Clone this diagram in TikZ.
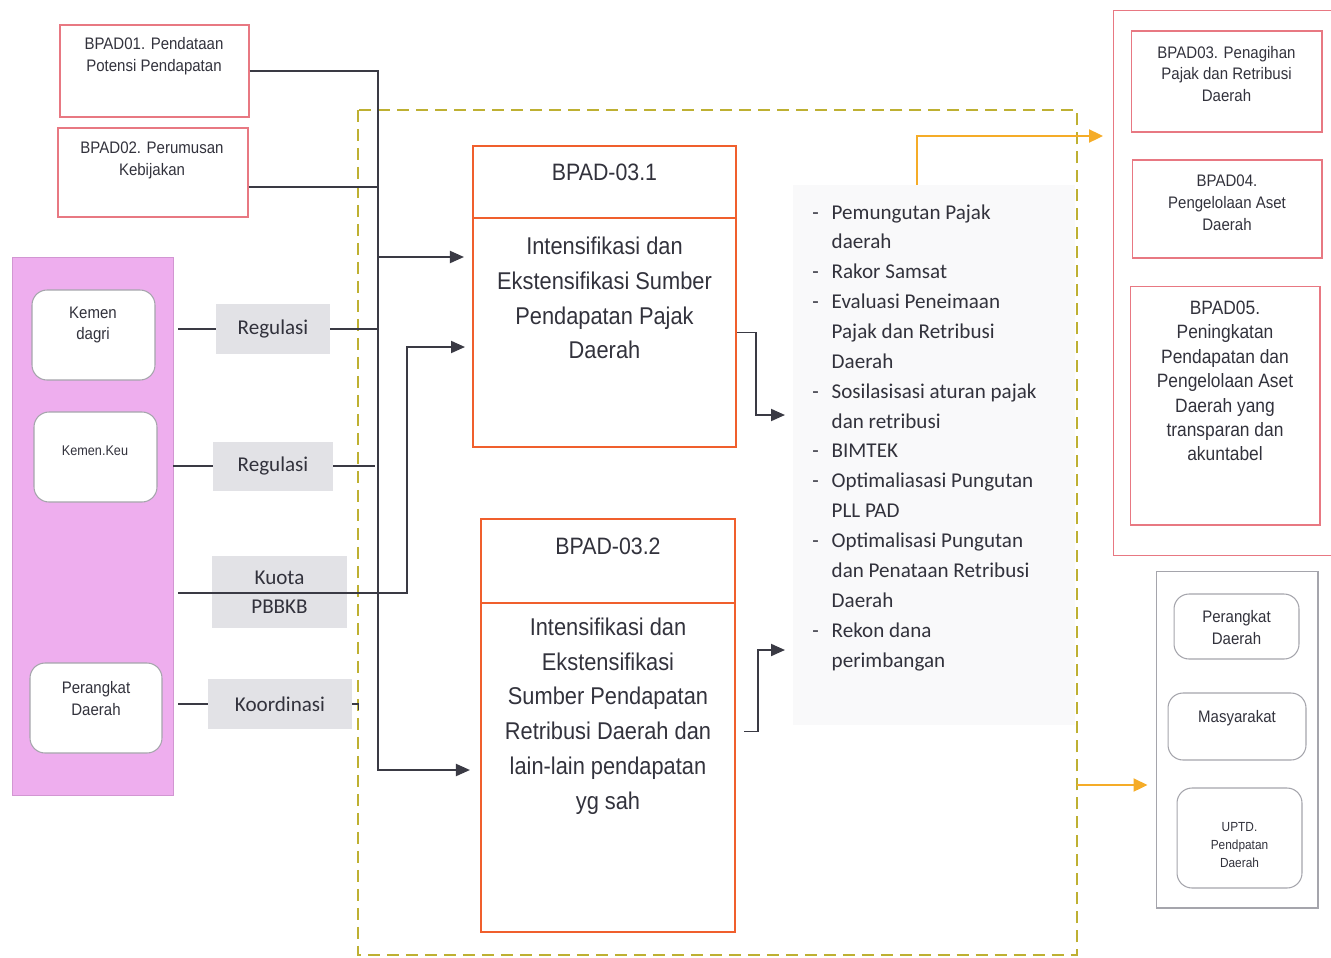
\documentclass[tikz,border=0pt]{standalone}
\usepackage{fontspec}
\setmainfont{Liberation Sans}
\newfontfamily\narrowfont[FakeStretch=0.9]{Liberation Sans}
\newfontfamily\calfont{Carlito}
\usetikzlibrary{arrows.meta}

\definecolor{pinkfill}{RGB}{238,174,238}
\definecolor{pinkline}{RGB}{210,150,210}
\definecolor{redline}{RGB}{232,120,130}
\definecolor{orangeline}{RGB}{240,95,45}
\definecolor{dashyellow}{RGB}{190,176,50}
\definecolor{arrorange}{RGB}{245,172,40}
\definecolor{linegray}{RGB}{58,58,68}
\definecolor{labelgray}{RGB}{226,226,230}
\definecolor{listbg}{RGB}{249,249,250}
\definecolor{txtgray}{RGB}{50,50,60}
\definecolor{boxgray}{RGB}{165,165,172}

\begin{document}
\begin{tikzpicture}[x=0.02cm, y=-0.02cm]
   \tikzstyle{every node}=[inner sep=0pt, text=txtgray]
   \tikzstyle{redbox}=[draw=redline, line width=0.6pt]
   \tikzstyle{roundbox}=[draw=boxgray, fill=white, rounded corners=0.3cm, line width=0.6pt]
   \tikzstyle{orangebox}=[draw=orangeline, line width=1.2pt]
   \tikzstyle{tag}=[fill=labelgray, align=center, font=\calfont\fontsize{12}{16.5}\selectfont]
   \tikzstyle{small}=[align=center, font=\narrowfont\fontsize{9.5}{12.5}\selectfont]
   \tikzstyle{big}=[align=center, font=\narrowfont\fontsize{13.8}{19.8}\selectfont]
   \tikzstyle{conn}=[draw=linegray, line width=1.1pt]
   \tikzstyle{arr}=[conn, -{Triangle[length=0.28cm, width=0.24cm]}]
   \tikzstyle{oarr}=[draw=arrorange, line width=1.3pt, -{Triangle[length=0.28cm, width=0.26cm]}]

   \useasboundingbox (0,0) rectangle (1331,957);

   % frame and list area
   \draw[dashyellow, line width=1.2pt, dash pattern=on 0.24cm off 0.14cm] (358,110) rectangle (1077,955);
   \node[fill=listbg, minimum width=5.64cm, minimum height=10.8cm] (list) at (934,455) {};

   % left side
   \node[redbox, minimum width=3.78cm, minimum height=1.84cm] (bpad1) at (154.5,71) {};
   \node[small] (bpad1txt) at (154,56) {BPAD01. Pendataan\\Potensi Pendapatan};
   \node[redbox, minimum width=3.8cm, minimum height=1.78cm] (bpad2) at (153,172.5) {};
   \node[small] (bpad2txt) at (152,160) {BPAD02. Perumusan\\Kebijakan};

   \node[draw=pinkline, fill=pinkfill, minimum width=3.22cm, minimum height=10.76cm] (pink) at (92.5,526) {};
   \node[roundbox, minimum width=2.46cm, minimum height=1.8cm] (kdagri) at (93.5,335) {};
   \node[small] (kdagritxt) at (93,325) {Kemen\\dagri};
   \node[roundbox, minimum width=2.46cm, minimum height=1.8cm] (kkeu) at (95.5,457) {};
   \node[small, font=\narrowfont\fontsize{8}{10}\selectfont] (kkeutxt) at (95,451) {Kemen.Keu};
   \node[roundbox, minimum width=2.64cm, minimum height=1.8cm] (pdleft) at (96,708) {};
   \node[small] (pdlefttxt) at (96,699) {Perangkat\\Daerah};

   \node[tag, minimum width=2.28cm, minimum height=1.0cm] (reg1) at (273,329) {Regulasi};
   \node[tag, minimum width=2.4cm, minimum height=0.98cm] (reg2) at (273,466) {Regulasi};
   \node[tag, minimum width=2.7cm, minimum height=1.44cm] (kuota) at (279.5,592) {Kuota\\PBBKB};
   \node[tag, minimum width=2.88cm, minimum height=1.0cm] (koord) at (280,704) {Koordinasi};

   % middle boxes
   \node[orangebox, minimum width=5.26cm, minimum height=1.44cm] (b31head) at (604.5,182) {};
   \node[orangebox, minimum width=5.26cm, minimum height=4.58cm] (b31body) at (604.5,332.5) {};
   \node[big, font=\narrowfont\fontsize{13.5}{16}\selectfont] (b31title) at (604.5,172) {BPAD-03.1};
   \node[big] (b31txt) at (604.5,298) {Intensifikasi dan\\Ekstensifikasi Sumber\\Pendapatan Pajak\\Daerah};

   \node[orangebox, minimum width=5.08cm, minimum height=1.68cm] (b32head) at (608,561) {};
   \node[orangebox, minimum width=5.08cm, minimum height=6.58cm] (b32body) at (608,767.5) {};
   \node[big, font=\narrowfont\fontsize{13.5}{16}\selectfont] (b32title) at (608,546) {BPAD-03.2};
   \node[big] (b32txt) at (608,716) {Intensifikasi dan\\Ekstensifikasi\\Sumber Pendapatan\\Retribusi Daerah dan\\lain-lain pendapatan\\yg sah};

   % activity list
   \node[anchor=north west, align=left, font=\calfont\fontsize{12}{17}\selectfont] (listtxt) at (812,204) {%
      \makebox[11pt][l]{-}Pemungutan Pajak\\ \hspace*{11pt}daerah\\
      \makebox[11pt][l]{-}Rakor Samsat\\
      \makebox[11pt][l]{-}Evaluasi Peneimaan\\ \hspace*{11pt}Pajak dan Retribusi\\ \hspace*{11pt}Daerah\\
      \makebox[11pt][l]{-}Sosilasisasi aturan pajak\\ \hspace*{11pt}dan retribusi\\
      \makebox[11pt][l]{-}BIMTEK\\
      \makebox[11pt][l]{-}Optimaliasasi Pungutan\\ \hspace*{11pt}PLL PAD\\
      \makebox[11pt][l]{-}Optimalisasi Pungutan\\ \hspace*{11pt}dan Penataan Retribusi\\ \hspace*{11pt}Daerah\\
      \makebox[11pt][l]{-}Rekon dana\\ \hspace*{11pt}perimbangan};

   % right side
   \node[redbox, minimum width=4.54cm, minimum height=10.92cm] (rbig) at (1226.5,283) {};
   \node[redbox, minimum width=3.82cm, minimum height=2.02cm] (bpad3) at (1226.5,81.5) {};
   \node[small] (bpad3txt) at (1226.5,74) {BPAD03. Penagihan\\Pajak dan Retribusi\\Daerah};
   \node[redbox, minimum width=3.8cm, minimum height=1.96cm] (bpad4) at (1227,209) {};
   \node[small] (bpad4txt) at (1227,203) {BPAD04.\\Pengelolaan Aset\\Daerah};
   \node[redbox, minimum width=3.8cm, minimum height=4.78cm] (bpad5) at (1225,405.5) {};
   \node[small, font=\narrowfont\fontsize{11}{13.9}\selectfont] (bpad5txt) at (1225,381) {BPAD05.\\Peningkatan\\Pendapatan dan\\Pengelolaan Aset\\Daerah yang\\transparan dan\\akuntabel};

   \node[draw=boxgray, line width=0.6pt, minimum width=3.24cm, minimum height=6.74cm] (rgray) at (1237,739.5) {};
   \node[roundbox, minimum width=2.5cm, minimum height=1.3cm] (pdright) at (1236.5,626.5) {};
   \node[small] (pdrighttxt) at (1236.5,627.5) {Perangkat\\Daerah};
   \node[roundbox, minimum width=2.76cm, minimum height=1.34cm] (masy) at (1237,726.5) {};
   \node[small] (masytxt) at (1237,718) {Masyarakat};
   \node[roundbox, minimum width=2.5cm, minimum height=2.0cm] (uptd) at (1239.5,838) {};
   \node[small, font=\narrowfont\fontsize{7.5}{10.5}\selectfont] (uptdtxt) at (1239.5,845) {UPTD.\\Pendpatan\\Daerah};

   % connectors
   \coordinate (jbot) at (378,770);
   \coordinate (jmid) at (378,257);
   \coordinate (kbend) at (407,593);
   \coordinate (b31in) at (473,347);
   \coordinate (b2out) at ([yshift=-0.29cm]bpad2.east);
   \coordinate (b32out) at ([yshift=0.72cm]b32body.east);
   \coordinate (l1) at (793,415);
   \coordinate (l2) at (793,650);
   \coordinate (otop) at (917,136);
   \coordinate (rin) at (1103,136);
   \coordinate (fout) at (1077,785);

   \draw[arr, shorten >=0.2cm] (bpad1.east) -| (jbot) -- (b32body.west |- jbot);
   \draw[conn, line width=0.8pt] (b2out) -- (b2out -| jbot);
   \draw[arr, shorten >=0.16cm] (jmid) -- (b31body.west |- jmid);
   \draw[conn, shorten <=0.1cm] (pink.east |- reg1) -- (reg1.west);
   \draw[conn] (reg1.east) -- (reg1.east -| jbot);
   \draw[conn] (pink.east |- reg2) -- (reg2.west);
   \draw[conn, shorten >=0.06cm] (reg2.east) -- (reg2.east -| jbot);
   \draw[arr, shorten <=0.1cm, shorten >=0.16cm] (pink.east |- kbend) -- (kbend) |- (b31in);
   \draw[conn, shorten <=0.1cm] (pink.east |- koord) -- (koord.west);
   \draw[conn, line width=0.8pt] (koord.east) -- ++(6,0) -- ++(0,6);

   \draw[arr, shorten >=0.16cm] (b31body.east) -- ++(19,0) |- (l1);
   \draw[arr, shorten <=0.16cm, shorten >=0.16cm] (b32out) -- ++(22,0) |- (l2);

   \draw[oarr] (list.north -| otop) -- (otop) -- (rin);
   \draw[oarr, shorten >=0.16cm] (fout) -- (rgray.west |- fout);
\end{tikzpicture}
\end{document}
